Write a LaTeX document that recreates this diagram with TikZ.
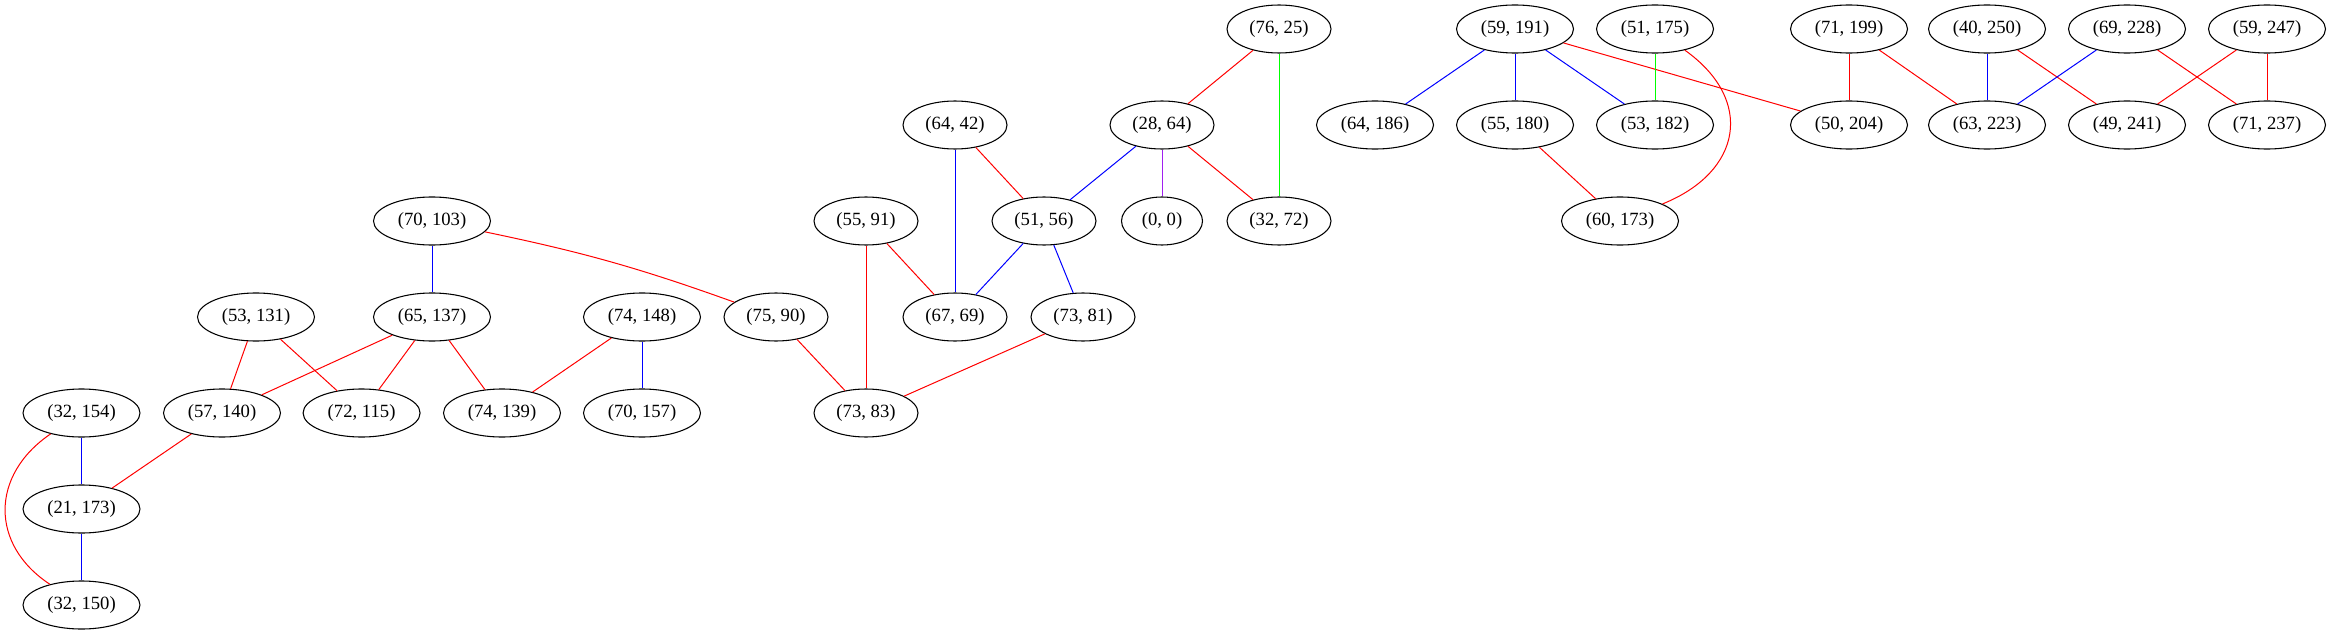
\documentclass[tikz,border=0pt]{standalone}
\usepackage{fontspec}
\setmainfont{Liberation Serif}
\usetikzlibrary{shapes.geometric}
\definecolor{gvred}{RGB}{255,0,0}
\definecolor{gvblue}{RGB}{0,0,255}
\definecolor{gvgreen}{RGB}{0,255,0}
\definecolor{gvpurple}{RGB}{160,32,240}
\tikzset{
  gv/.style={ellipse,draw=black,line width=0.8pt,inner sep=0pt,minimum height=36pt,font=\fontsize{14}{16}\selectfont},
  wthree/.style={gv,minimum width=87.75pt},
  wtwo/.style={gv,minimum width=78pt},
  wone/.style={gv,minimum width=60.75pt},
  er/.style={draw=gvred,line width=0.75pt},
  eb/.style={draw=gvblue,line width=0.75pt},
  eg/.style={draw=gvgreen,line width=0.75pt},
  ep/.style={draw=gvpurple,line width=0.75pt},
}
\begin{document}
\begin{tikzpicture}[x=0.75pt,y=-0.75pt]
\useasboundingbox (0,0) rectangle (2331,635);
% row 1
\node[wtwo]   (n76_25)  at (1279,29) {(76, 25)};
\node[wthree] (n59_191) at (1515,29) {(59, 191)};
\node[wthree] (n51_175) at (1655,29) {(51, 175)};
\node[wthree] (n71_199) at (1849,29) {(71, 199)};
\node[wthree] (n40_250) at (1987,29) {(40, 250)};
\node[wthree] (n69_228) at (2127,29) {(69, 228)};
\node[wthree] (n59_247) at (2267,29) {(59, 247)};
% row 2
\node[wtwo]   (n64_42)  at (955,125)  {(64, 42)};
\node[wtwo]   (n28_64)  at (1162,125) {(28, 64)};
\node[wthree] (n64_186) at (1375,125) {(64, 186)};
\node[wthree] (n55_180) at (1515,125) {(55, 180)};
\node[wthree] (n53_182) at (1655,125) {(53, 182)};
\node[wthree] (n50_204) at (1849,125) {(50, 204)};
\node[wthree] (n63_223) at (1987,125) {(63, 223)};
\node[wthree] (n49_241) at (2127,125) {(49, 241)};
\node[wthree] (n71_237) at (2267,125) {(71, 237)};
% row 3
\node[wthree] (n70_103) at (432,221)  {(70, 103)};
\node[wtwo]   (n55_91)  at (866,221)  {(55, 91)};
\node[wtwo]   (n51_56)  at (1044,221) {(51, 56)};
\node[wone]   (n0_0)    at (1162,221) {(0, 0)};
\node[wtwo]   (n32_72)  at (1279,221) {(32, 72)};
\node[wthree] (n60_173) at (1620,221) {(60, 173)};
% row 4
\node[wthree] (n53_131) at (256,317)  {(53, 131)};
\node[wthree] (n65_137) at (432,317)  {(65, 137)};
\node[wthree] (n74_148) at (642,317)  {(74, 148)};
\node[wtwo]   (n75_90)  at (776,317)  {(75, 90)};
\node[wtwo]   (n67_69)  at (955,317)  {(67, 69)};
\node[wtwo]   (n73_81)  at (1083,317) {(73, 81)};
% row 5
\node[wthree] (n32_154) at (81.5,413) {(32, 154)};
\node[wthree] (n57_140) at (222,413)  {(57, 140)};
\node[wthree] (n72_115) at (361.6,413) {(72, 115)};
\node[wthree] (n74_139) at (502,413)  {(74, 139)};
\node[wthree] (n70_157) at (642,413)  {(70, 157)};
\node[wtwo]   (n73_83)  at (866,413)  {(73, 83)};
% rows 6, 7
\node[wthree] (n21_173) at (81.5,509) {(21, 173)};
\node[wthree] (n32_150) at (81.5,605) {(32, 150)};
% edges
\draw[er] (n76_25) -- (n28_64);
\draw[eg] (n76_25) -- (n32_72);
\draw[eb] (n64_42) -- (n67_69);
\draw[er] (n64_42) -- (n51_56);
\draw[eb] (n28_64) -- (n51_56);
\draw[ep] (n28_64) -- (n0_0);
\draw[er] (n28_64) -- (n32_72);
\draw[eb] (n70_103) -- (n65_137);
\draw[er] (n70_103) to[bend left=4] (n75_90);
\draw[er] (n55_91) -- (n67_69);
\draw[er] (n55_91) -- (n73_83);
\draw[eb] (n51_56) -- (n67_69);
\draw[eb] (n51_56) -- (n73_81);
\draw[er] (n53_131) -- (n57_140);
\draw[er] (n53_131) -- (n72_115);
\draw[er] (n65_137) -- (n57_140);
\draw[er] (n65_137) -- (n72_115);
\draw[er] (n65_137) -- (n74_139);
\draw[er] (n74_148) -- (n74_139);
\draw[eb] (n74_148) -- (n70_157);
\draw[er] (n75_90) -- (n73_83);
\draw[er] (n73_81) -- (n73_83);
\draw[eb] (n32_154) -- (n21_173);
\draw[er] (n32_154) .. controls (-10,475) and (-10,545) .. (n32_150);
\draw[er] (n57_140) -- (n21_173);
\draw[eb] (n21_173) -- (n32_150);
\draw[eb] (n59_191) -- (n64_186);
\draw[eb] (n59_191) -- (n55_180);
\draw[eb] (n59_191) -- (n53_182);
\draw[er] (n59_191) -- (n50_204);
\draw[eg] (n51_175) -- (n53_182);
\draw[er] (n51_175) .. controls (1755,100) and (1742,172) .. (n60_173);
\draw[er] (n55_180) -- (n60_173);
\draw[er] (n71_199) -- (n50_204);
\draw[er] (n71_199) -- (n63_223);
\draw[eb] (n40_250) -- (n63_223);
\draw[er] (n40_250) -- (n49_241);
\draw[eb] (n69_228) -- (n63_223);
\draw[er] (n69_228) -- (n71_237);
\draw[er] (n59_247) -- (n49_241);
\draw[er] (n59_247) -- (n71_237);
\end{tikzpicture}
\end{document}
